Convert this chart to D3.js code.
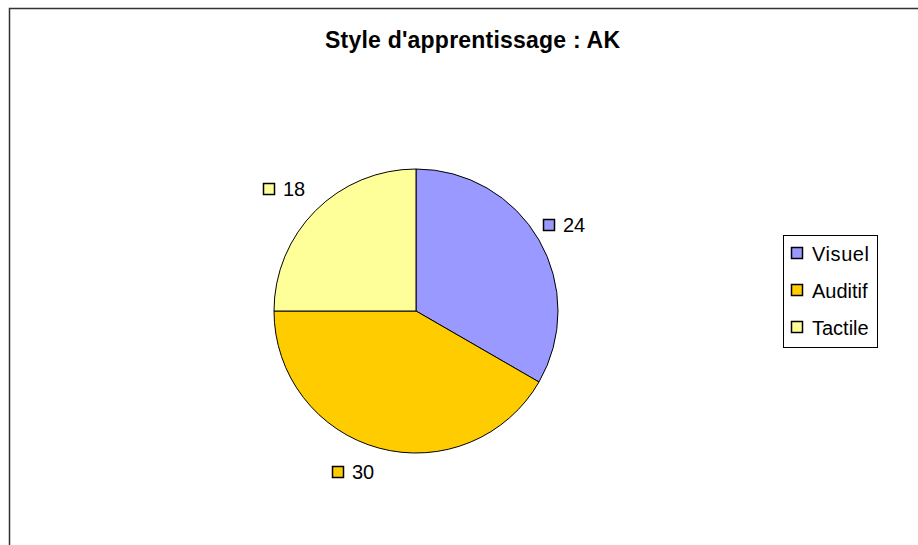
<!DOCTYPE html>
<html><head><meta charset="utf-8">
<script src="https://cdn.jsdelivr.net/npm/d3@7"></script>
<style>body{margin:0;background:#fff}svg{display:block}text{font-family:"Liberation Sans",Arial,sans-serif}</style>
</head><body>
<svg id="c" width="918" height="545"></svg>
<script>
const categories = ["Visuel", "Auditif", "Tactile"];
const values = [24, 30, 18];
const colors = ["#9999FF", "#FFCC00", "#FFFF99"];
const title = "Style d'apprentissage : AK";

const svg = d3.select("#c");
svg.append("path").attr("d","M9.5,545 V8.5 H918").attr("fill","none").attr("stroke","#333").attr("stroke-width",1.5);

svg.append("text").attr("x",325).attr("y",48)
  .attr("font-size",23).attr("font-weight","bold")
  .attr("textLength",295).attr("lengthAdjust","spacing").text(title);

const cx = 416, cy = 311, r = 142;
const pie = d3.pie().sort(null).value(d=>d)(values);
const arc = d3.arc().innerRadius(0).outerRadius(r);
const g = svg.append("g").attr("transform",`translate(${cx},${cy})`);
g.selectAll("path").data(pie).join("path").attr("d",arc)
  .attr("fill",(d,i)=>colors[i]).attr("stroke","#000").attr("stroke-width",1);

// data labels (text start x, baseline y) relative to pie centre
const offs = [[147,-79],[-64,168],[-133,-115]];
pie.forEach((d,i)=>{
  const [x,y] = [cx+offs[i][0], cy+offs[i][1]];
  svg.append("rect").attr("x",x-19.5).attr("y",y-12.5).attr("width",11).attr("height",11)
    .attr("fill",colors[i]).attr("stroke","#000").attr("stroke-width",1.5);
  svg.append("text").attr("x",x).attr("y",y).attr("font-size",20).text(values[i]);
});

// legend
svg.append("rect").attr("x",783.5).attr("y",235.5).attr("width",94).attr("height",112)
  .attr("fill","#fff").attr("stroke","#000").attr("stroke-width",1);
categories.forEach((c,i)=>{
  const y = 261 + i*37;
  svg.append("rect").attr("x",791.5).attr("y",y-13.5).attr("width",11).attr("height",11)
    .attr("fill",colors[i]).attr("stroke","#000").attr("stroke-width",1.5);
  svg.append("text").attr("x",812).attr("y",y).attr("font-size",20).attr("textLength",c==="Visuel"?57:null).text(c);
});
</script>
</body></html>
